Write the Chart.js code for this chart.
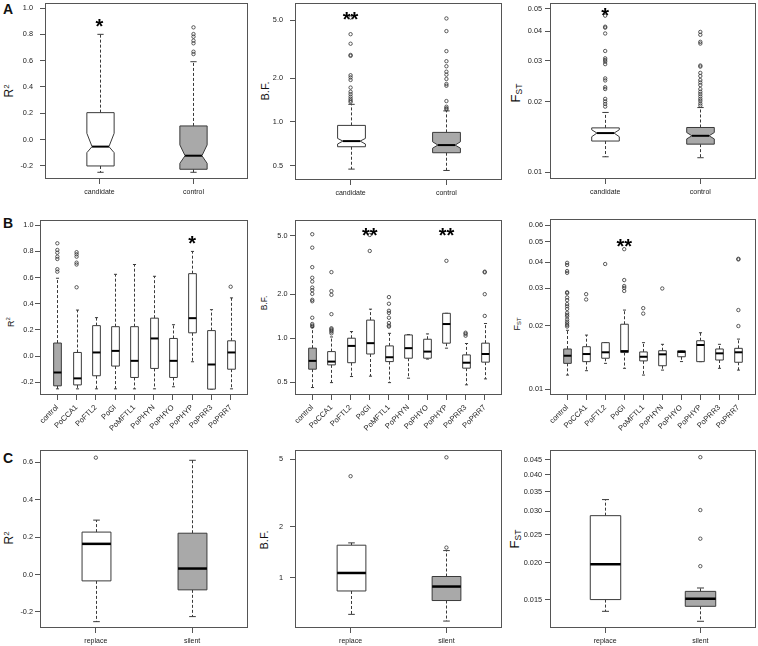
<!DOCTYPE html>
<html>
<head>
<meta charset="utf-8">
<script src="https://cdn.jsdelivr.net/npm/chart.js@4.4.0/dist/chart.umd.min.js"></script>
<style>
  body { margin: 0; width: 758px; height: 646px; position: relative; overflow: hidden; background: #fff;
         font-family: "Liberation Sans", Arial, sans-serif; color: #111; }
  canvas { position: absolute; }
  .tag { position: absolute; font-weight: bold; font-size: 14px; line-height: 1; }
  .ytitle { position: absolute; transform: translate(-50%, -50%) rotate(-90deg); white-space: nowrap; line-height: 1; }
  .ytitle sup { font-size: 0.65em; vertical-align: 0.55em; }
  .ytitle sub { font-size: 0.65em; vertical-align: -0.2em; }
</style>
</head>
<body>
<div class="tag" style="left:3px;top:2px">A</div>
<div class="tag" style="left:3px;top:216px">B</div>
<div class="tag" style="left:3px;top:451px">C</div>

<div class="ytitle" style="left:9px;top:91px;font-size:12px">R<sup>2</sup></div>
<div class="ytitle" style="left:265px;top:91px;font-size:11px">B.F.</div>
<div class="ytitle" style="left:516px;top:93px;font-size:13px">F<sub>ST</sub></div>
<div class="ytitle" style="left:11px;top:322px;font-size:9px">R<sup>2</sup></div>
<div class="ytitle" style="left:264px;top:303px;font-size:8.5px">B.F.</div>
<div class="ytitle" style="left:518px;top:324px;font-size:9px">F<sub>ST</sub></div>
<div class="ytitle" style="left:9px;top:538px;font-size:12px">R<sup>2</sup></div>
<div class="ytitle" style="left:264px;top:540px;font-size:11px">B.F.</div>
<div class="ytitle" style="left:515px;top:539px;font-size:13px">F<sub>ST</sub></div>

<script>
// --- Categorías ---
const catsA = ['candidate', 'control'];
const catsB = ['control', 'PoCCA1', 'PoFTL2', 'PoGI', 'PoMFTL1', 'PoPHYN', 'PoPHYO', 'PoPHYP', 'PoPRR3', 'PoPRR7'];
const catsC = ['replace', 'silent'];

// --- Ticks ---
const r2Ticks = [-0.2, 0, 0.2, 0.4, 0.6, 0.8, 1.0];
const r2TickLabels = ['-0.2', '0.0', '0.2', '0.4', '0.6', '0.8', '1.0'];
const r2TicksC = [-0.2, 0, 0.2, 0.4, 0.6];
const r2TickLabelsC = ['-0.2', '0.0', '0.2', '0.4', '0.6'];
const bfTicks = [0.5, 1, 2, 5];
const bfTickLabels = ['0.5', '1.0', '2.0', '5.0'];
const bfTicksC = [1, 2, 5];
const bfTickLabelsC = ['1', '2', '5'];
const fstTicksA = [0.01, 0.02, 0.03, 0.04, 0.05];
const fstTickLabelsA = ['0.01', '0.02', '0.03', '0.04', '0.05'];
const fstTicksB = [0.01, 0.02, 0.03, 0.04, 0.05, 0.06];
const fstTickLabelsB = ['0.01', '0.02', '0.03', '0.04', '0.05', '0.06'];
const fstTicksC = [0.015, 0.02, 0.025, 0.03, 0.035, 0.04, 0.045];
const fstTickLabelsC = ['0.015', '0.020', '0.025', '0.030', '0.035', '0.040', '0.045'];

// --- Panel A: [whisker low, Q1, median, Q3, whisker high] ---
const r2A = [[-0.248, -0.2, -0.053, 0.205, 0.80], [-0.248, -0.225, -0.122, 0.104, 0.592]];
const r2ANotch = [[-0.099, 0.048], [-0.18, -0.04]];
const r2AOut = [[], [0.853, 0.802, 0.782, 0.752, 0.732, 0.668, 0.65]];
const r2AStars = ['*', ''];

const bfA = [[0.474, 0.675, 0.738, 0.946, 1.32], [0.464, 0.614, 0.693, 0.847, 1.19]];
const bfANotch = [[0.705, 0.77], [0.66, 0.73]];
const bfAOut = [
  [5.2, 4.0, 3.44, 2.88, 2.84, 2.09, 2.02, 1.94, 1.72, 1.61, 1.55, 1.49, 1.44, 1.40, 1.37],
  [5.13, 4.2, 3.06, 2.61, 2.41, 2.21, 2.11, 1.97, 1.82, 1.77, 1.39, 1.27, 1.24, 1.22]
];
const bfAStars = ['**', ''];

const fstA = [[0.01166, 0.01361, 0.01472, 0.01549, 0.01803], [0.01155, 0.0132, 0.01433, 0.01555, 0.01892]];
const fstANotch = [[0.0142, 0.0152], [0.0139, 0.0148]];
const fstAOut = [
  [0.0467, 0.0419, 0.0415, 0.0392, 0.033, 0.0307, 0.0302, 0.0297, 0.029, 0.0252, 0.0247, 0.0231, 0.0227, 0.0206, 0.0201, 0.0196, 0.0191],
  [0.0398, 0.0387, 0.0361, 0.0355, 0.0286, 0.0283, 0.0266, 0.0258, 0.0248, 0.0242, 0.0236, 0.0227, 0.0221, 0.0216, 0.0211, 0.0206, 0.0202, 0.0197, 0.0193]
];
const fstAStars = ['*', ''];

// --- Panel B ---
const r2B = [
  [-0.25, -0.227, -0.125, 0.10, 0.595],
  [-0.25, -0.22, -0.17, 0.028, 0.352],
  [-0.25, -0.15, 0.028, 0.233, 0.294],
  [-0.25, -0.076, 0.04, 0.225, 0.625],
  [-0.25, -0.163, -0.036, 0.225, 0.70],
  [-0.25, -0.094, 0.135, 0.29, 0.61],
  [-0.234, -0.163, -0.036, 0.135, 0.24],
  [-0.043, 0.178, 0.29, 0.63, 0.80],
  [-0.252, -0.252, -0.064, 0.195, 0.355],
  [-0.25, -0.1, 0.028, 0.117, 0.445]
];
const r2BOut = [[0.862, 0.811, 0.79, 0.76, 0.742, 0.664, 0.645], [0.794, 0.778, 0.76, 0.714, 0.70, 0.526], [], [], [], [], [], [], [], [0.53]];
const r2BStars = ['', '', '', '', '', '', '', '*', '', ''];

const bfB = [
  [0.46, 0.614, 0.70, 0.855, 1.19],
  [0.497, 0.657, 0.692, 0.81, 1.02],
  [0.547, 0.68, 0.886, 1.0, 1.11],
  [0.55, 0.78, 0.925, 1.33, 1.58],
  [0.497, 0.692, 0.741, 0.886, 1.08],
  [0.533, 0.73, 0.855, 1.053, 1.06],
  [0.72, 0.73, 0.81, 0.984, 1.07],
  [0.855, 0.925, 1.25, 1.48, 1.48],
  [0.48, 0.624, 0.68, 0.769, 0.92],
  [0.527, 0.686, 0.78, 0.925, 1.26]
];
const bfBOut = [
  [5.14, 4.16, 3.06, 2.59, 2.44, 2.22, 2.13, 2.01, 1.83, 1.79, 1.38, 1.25, 1.22, 1.2],
  [2.83, 2.1, 1.98, 1.46, 1.17, 1.15, 1.13, 1.11, 1.08],
  [], [5.08, 3.95],
  [1.91, 1.72, 1.54, 1.49, 1.38, 1.27, 1.22, 1.2],
  [], [], [3.38], [1.09, 1.07, 1.04], [2.85, 2.82, 2.0, 1.42]
];
const bfBStars = ['', '', '', '**', '', '', '', '**', '', ''];

const fstB = [
  [0.01165, 0.01324, 0.01439, 0.01549, 0.019],
  [0.01222, 0.01349, 0.01466, 0.01588, 0.01803],
  [0.01324, 0.014, 0.01494, 0.0166, 0.0166],
  [0.01254, 0.0149, 0.01514, 0.0203, 0.0237],
  [0.01165, 0.0136, 0.01423, 0.0150, 0.0166],
  [0.0123, 0.0129, 0.01461, 0.0152, 0.0163],
  [0.0135, 0.01423, 0.0150, 0.0152, 0.0152],
  [0.01349, 0.01349, 0.01618, 0.01695, 0.0185],
  [0.01254, 0.01373, 0.01477, 0.01549, 0.0163],
  [0.0123, 0.0134, 0.01494, 0.0156, 0.01726]
];
const fstBOut = [
  [0.0397, 0.0388, 0.0363, 0.0356, 0.0288, 0.0285, 0.0272, 0.0264, 0.0253, 0.0247, 0.024, 0.023, 0.0225, 0.0221, 0.0214, 0.0209, 0.0205, 0.0201, 0.0198],
  [0.0282, 0.0266], [0.0392], [0.0461, 0.0329, 0.0308, 0.0302, 0.0292],
  [0.0242, 0.0228], [0.030], [], [], [], [0.0415, 0.0412, 0.0237, 0.0199]
];
const fstBStars = ['', '', '', '**', '', '', '', '', '', ''];

// --- Panel C ---
const r2C = [[-0.252, -0.034, 0.164, 0.227, 0.291], [-0.225, -0.082, 0.032, 0.221, 0.611]];
const r2COut = [[0.625], []];
const bfC = [[0.61, 0.838, 1.07, 1.56, 1.61], [0.557, 0.736, 0.89, 1.02, 1.45]];
const bfCOut = [[3.98], [5.14, 1.51]];
const fstC = [[0.01368, 0.0150, 0.0198, 0.0290, 0.0329], [0.01265, 0.01423, 0.0151, 0.0160, 0.01643]];
const fstCOut = [[], [0.0459, 0.0303, 0.0242, 0.0195]];

const FONT = '"Liberation Sans", Arial, sans-serif';
const grisCaja = '#a9a9a9';

// Dibuja cajas, bigotes, medianas y asteriscos con las escalas del gráfico
function boxPlugin(p) {
  return {
    id: 'boxes',
    beforeDatasetsDraw(chart) {
      const { ctx, scales: { x, y } } = chart;
      ctx.save();
      p.stats.forEach((s, i) => {
        const cx = Math.round(x.getPixelForValue(i + 1)) + 0.5;
        const hw = Math.abs(x.getPixelForValue(i + 1 + p.boxWidth / 2) - x.getPixelForValue(i + 1));
        const [lo, q1, med, q3, hi] = s.map(v => y.getPixelForValue(v));
        ctx.strokeStyle = '#3a3a3a';
        ctx.lineWidth = 1;
        ctx.setLineDash([3, 2]);
        ctx.beginPath();
        if (hi < q3 - 0.5) { ctx.moveTo(cx, q3); ctx.lineTo(cx, hi); }
        if (lo > q1 + 0.5) { ctx.moveTo(cx, q1); ctx.lineTo(cx, lo); }
        ctx.stroke();
        ctx.setLineDash([]);
        const sw = hw * p.capFrac;
        ctx.beginPath();
        ctx.moveTo(cx - sw, hi); ctx.lineTo(cx + sw, hi);
        ctx.moveTo(cx - sw, lo); ctx.lineTo(cx + sw, lo);
        ctx.stroke();

        ctx.beginPath();
        let mw = hw;
        if (p.notches) {
          const [nl, nh] = p.notches[i].map(v => y.getPixelForValue(v));
          mw = hw * 0.62;
          ctx.moveTo(cx - hw, q3); ctx.lineTo(cx + hw, q3); ctx.lineTo(cx + hw, nh);
          ctx.lineTo(cx + mw, med); ctx.lineTo(cx + hw, nl); ctx.lineTo(cx + hw, q1);
          ctx.lineTo(cx - hw, q1); ctx.lineTo(cx - hw, nl); ctx.lineTo(cx - mw, med);
          ctx.lineTo(cx - hw, nh); ctx.closePath();
        } else {
          ctx.rect(cx - hw, q3, 2 * hw, q1 - q3);
        }
        ctx.fillStyle = (p.cats[i] === 'control' || p.cats[i] === 'silent') ? grisCaja : '#fff';
        ctx.fill();
        ctx.stroke();

        ctx.strokeStyle = '#000';
        ctx.lineWidth = p.medWidth;
        ctx.beginPath();
        ctx.moveTo(cx - mw, med); ctx.lineTo(cx + mw, med);
        ctx.stroke();
      });

      if (p.stars) {
        ctx.fillStyle = '#000';
        ctx.font = 'bold 20px ' + FONT;
        ctx.textAlign = 'center';
        ctx.textBaseline = 'alphabetic';
        const yy = y.getPixelForValue(p.starAt) + 11.5;
        p.stars.forEach((s, i) => { if (s) ctx.fillText(s, x.getPixelForValue(i + 1), yy); });
      }
      ctx.restore();
    },
    afterDraw(chart) {
      const { ctx, chartArea: a } = chart;
      ctx.save();
      ctx.strokeStyle = '#555';
      ctx.lineWidth = 1;
      ctx.strokeRect(Math.round(a.left) + 0.5, Math.round(a.top) + 0.5,
        Math.round(a.right - a.left) - 1, Math.round(a.bottom - a.top) - 1);
      ctx.restore();
    }
  };
}

function makePanel(p) {
  const [cx, cy, cw, ch] = p.canvas;
  const [fl, ft, fr, fb] = p.frame;
  const cv = document.createElement('canvas');
  cv.width = cw; cv.height = ch;
  cv.style.left = cx + 'px'; cv.style.top = cy + 'px';
  document.body.appendChild(cv);
  const n = p.cats.length;
  const puntos = p.outliers.flatMap((arr, i) => arr.map(v => ({ x: i + 1, y: v })));

  const resetPad = s => { s.paddingLeft = 0; s.paddingRight = 0; s.paddingTop = 0; s.paddingBottom = 0; };

  return new Chart(cv, {
    type: 'scatter',
    data: {
      datasets: [{
        data: puntos,
        pointStyle: 'circle',
        pointRadius: 1.7,
        pointBorderWidth: 0.8,
        pointBorderColor: '#333',
        pointBackgroundColor: 'rgba(0,0,0,0)',
        pointHoverRadius: 1.7
      }]
    },
    options: {
      responsive: false,
      animation: false,
      devicePixelRatio: 1,
      events: [],
      layout: { padding: { left: 0, top: ft - cy, right: cx + cw - fr, bottom: 0 } },
      plugins: { legend: { display: false }, tooltip: { enabled: false } },
      scales: {
        x: {
          type: 'linear',
          min: 0.5 - 0.04 * n,
          max: n + 0.5 + 0.04 * n,
          afterBuildTicks: s => { s.ticks = p.cats.map((c, i) => ({ value: i + 1 })); },
          afterFit: s => { s.height = cy + ch - fb; resetPad(s); },
          ticks: {
            callback: v => p.cats[Math.round(v) - 1],
            autoSkip: false,
            minRotation: p.rot,
            maxRotation: p.rot,
            padding: p.xPad,
            color: '#222',
            font: { family: FONT, size: p.xFont }
          },
          grid: { drawOnChartArea: false, drawTicks: true, tickLength: 5, color: '#555' },
          border: { display: false }
        },
        y: {
          type: p.log ? 'logarithmic' : 'linear',
          min: p.yMin,
          max: p.yMax,
          afterBuildTicks: s => { s.ticks = p.yTicks.map(v => ({ value: v })); },
          afterFit: s => { s.width = fl - cx; resetPad(s); },
          ticks: {
            callback: (v, i) => p.yLabels[i],
            autoSkip: false,
            padding: p.yPad,
            color: '#222',
            font: { family: FONT, size: 7.3 }
          },
          grid: { drawOnChartArea: false, drawTicks: true, tickLength: 5, color: '#555' },
          border: { display: false }
        }
      }
    },
    plugins: [boxPlugin(p)]
  });
}

// --- Fila A ---
makePanel({ canvas: [0, 0, 252, 205], frame: [45, 3, 248, 179], cats: catsA, stats: r2A, notches: r2ANotch,
  outliers: r2AOut, stars: r2AStars, starAt: 0.9, yMin: -0.299, yMax: 1.038, yTicks: r2Ticks, yLabels: r2TickLabels,
  boxWidth: 0.29, capFrac: 0.23, medWidth: 2, rot: 0, xPad: 4, xFont: 7, yPad: 7 });
makePanel({ canvas: [252, 0, 253, 205], frame: [295, 3, 502, 180], cats: catsA, stats: bfA, notches: bfANotch,
  outliers: bfAOut, stars: bfAStars, starAt: 5.47, log: true, yMin: 0.399, yMax: 6.55, yTicks: bfTicks, yLabels: bfTickLabels,
  boxWidth: 0.29, capFrac: 0.23, medWidth: 2, rot: 0, xPad: 4, xFont: 7, yPad: 7 });
makePanel({ canvas: [505, 0, 253, 205], frame: [550, 3, 756, 179], cats: catsA, stats: fstA, notches: fstANotch,
  outliers: fstAOut, stars: fstAStars, starAt: 0.0489, log: true, yMin: 0.00937, yMax: 0.0529, yTicks: fstTicksA, yLabels: fstTickLabelsA,
  boxWidth: 0.29, capFrac: 0.23, medWidth: 2, rot: 0, xPad: 4, xFont: 7, yPad: 3 });

// --- Fila B ---
makePanel({ canvas: [0, 205, 252, 240], frame: [40, 220, 248, 395], cats: catsB, stats: r2B,
  outliers: r2BOut, stars: r2BStars, starAt: 0.9, yMin: -0.297, yMax: 1.04, yTicks: r2Ticks, yLabels: r2TickLabels,
  boxWidth: 0.4, capFrac: 0.4, medWidth: 2, rot: 45, xPad: 3, xFont: 7.6, yPad: 1.5 });
makePanel({ canvas: [252, 205, 253, 240], frame: [295, 220, 502, 395], cats: catsB, stats: bfB,
  outliers: bfBOut, stars: bfBStars, starAt: 5.44, log: true, yMin: 0.409, yMax: 6.43, yTicks: bfTicks, yLabels: bfTickLabels,
  boxWidth: 0.4, capFrac: 0.4, medWidth: 2, rot: 45, xPad: 3, xFont: 7.6, yPad: 2.5 });
makePanel({ canvas: [505, 205, 253, 240], frame: [550, 219, 756, 395], cats: catsB, stats: fstB,
  outliers: fstBOut, stars: fstBStars, starAt: 0.05, log: true, yMin: 0.00937, yMax: 0.0641, yTicks: fstTicksB, yLabels: fstTickLabelsB,
  boxWidth: 0.4, capFrac: 0.4, medWidth: 2, rot: 45, xPad: 3, xFont: 7.6, yPad: 2 });

// --- Fila C ---
makePanel({ canvas: [0, 445, 252, 201], frame: [40, 450, 248, 628], cats: catsC, stats: r2C,
  outliers: r2COut, yMin: -0.286, yMax: 0.666, yTicks: r2TicksC, yLabels: r2TickLabelsC,
  boxWidth: 0.3, capFrac: 0.23, medWidth: 2.5, rot: 0, xPad: 4, xFont: 7, yPad: 2 });
makePanel({ canvas: [252, 445, 253, 201], frame: [295, 450, 502, 628], cats: catsC, stats: bfC,
  outliers: bfCOut, log: true, yMin: 0.507, yMax: 5.68, yTicks: bfTicksC, yLabels: bfTickLabelsC,
  boxWidth: 0.3, capFrac: 0.23, medWidth: 2.5, rot: 0, xPad: 4, xFont: 7, yPad: 7 });
makePanel({ canvas: [505, 445, 253, 201], frame: [550, 450, 756, 628], cats: catsC, stats: fstC,
  outliers: fstCOut, log: true, yMin: 0.012, yMax: 0.04857, yTicks: fstTicksC, yLabels: fstTickLabelsC,
  boxWidth: 0.32, capFrac: 0.23, medWidth: 2.5, rot: 0, xPad: 4, xFont: 7, yPad: 3 });
</script>
</body>
</html>
